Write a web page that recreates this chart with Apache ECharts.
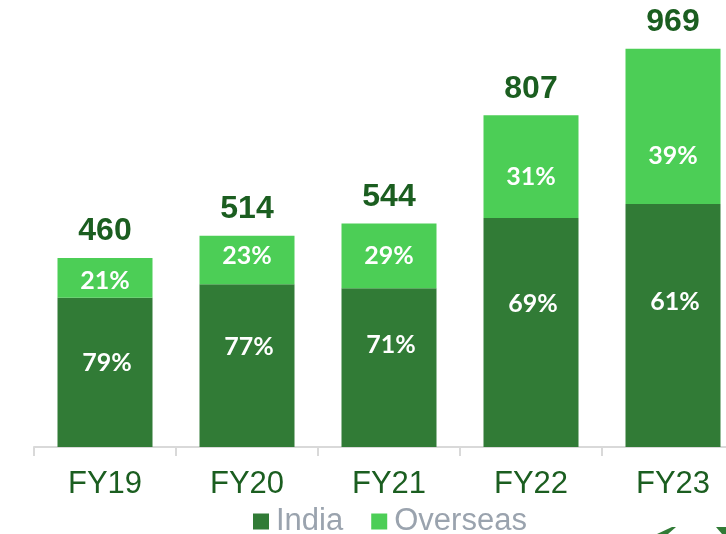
<!DOCTYPE html>
<html>
<head>
<meta charset="utf-8">
<script src="https://cdn.jsdelivr.net/npm/echarts@6/dist/echarts.min.js"></script>
<style>
  html, body { margin: 0; padding: 0; background: #fff; }
  #chart { width: 726px; height: 534px; }
</style>
</head>
<body>
<div id="chart"></div>
<script>
// values
const years = ['FY19', 'FY20', 'FY21', 'FY22', 'FY23'];
const totals = [460, 514, 544, 807, 969];
const india = [363, 396, 386, 557, 591];
const overseas = [97, 118, 158, 250, 378];
const indiaPct = ['79%', '77%', '71%', '69%', '61%'];
const overseasPct = ['21%', '23%', '29%', '31%', '39%'];

// label nudges (layout only)
const indiaShift = [-9, -19, -23, -29, -24];
const overseasShift = [3, -4, 0, 10, 30];

const dark = '#317B36';
const light = '#4CCE56';
const txt = '#1B5E20';

let chart = echarts.init(document.getElementById('chart'));

const pctLabel = {
  show: true,
  position: 'inside',
  color: '#fff',
  fontFamily: 'Lato',
  fontWeight: 'bold',
  fontSize: 25
};

let option = {
  animation: false,
  grid: { left: 34, width: 710, top: 36, bottom: 87, outerBoundsMode: 'none', containLabel: false },
  legend: {
    top: 506,
    left: 253,
    padding: 0,
    itemWidth: 16,
    itemHeight: 16,
    itemGap: 28,
    icon: 'rect',
    textStyle: { color: '#9AA3AE', fontSize: 31, fontFamily: 'Liberation Sans', padding: [0, 0, 0, 2] },
    data: ['India', 'Overseas']
  },
  // bits of a logo cut off at the bottom right corner
  graphic: [
    { type: 'polygon', silent: true, shape: { points: [[657, 534], [672, 527], [676, 527], [668, 534]] }, style: { fill: dark } },
    { type: 'polygon', silent: true, shape: { points: [[716, 527], [726, 527], [726, 534], [722, 534]] }, style: { fill: dark } }
  ],
  xAxis: {
    type: 'category',
    data: years,
    axisLine: { lineStyle: { color: '#D9D9D9', width: 2 } },
    axisTick: { show: true, length: 9, lineStyle: { color: '#D9D9D9', width: 2 } },
    axisLabel: { color: txt, fontSize: 31, fontFamily: 'Liberation Sans', margin: 22 }
  },
  yAxis: {
    type: 'value',
    min: 0,
    max: 1000,
    show: false,
    splitLine: { show: false }
  },
  series: [
    {
      name: 'India',
      type: 'bar',
      stack: 'rev',
      barWidth: 95,
      itemStyle: { color: dark },
      data: india.map((v, i) => ({
        value: v,
        label: Object.assign({}, pctLabel, { formatter: indiaPct[i], offset: [2, indiaShift[i]] })
      }))
    },
    {
      name: 'Overseas',
      type: 'bar',
      stack: 'rev',
      barWidth: 95,
      itemStyle: { color: light },
      data: overseas.map((v, i) => ({
        value: v,
        label: Object.assign({}, pctLabel, { formatter: overseasPct[i], offset: [0, overseasShift[i]] })
      }))
    },
    {
      name: 'Total',
      type: 'line',
      data: totals,
      symbol: 'circle',
      symbolSize: 1,
      itemStyle: { color: 'rgba(0,0,0,0)' },
      lineStyle: { opacity: 0 },
      silent: true,
      z: 5,
      label: {
        show: true,
        position: 'top',
        distance: 10,
        color: txt,
        fontFamily: 'Liberation Sans',
        fontWeight: 'bold',
        fontSize: 32
      }
    }
  ]
};

option && chart.setOption(option);
</script>
</body>
</html>
